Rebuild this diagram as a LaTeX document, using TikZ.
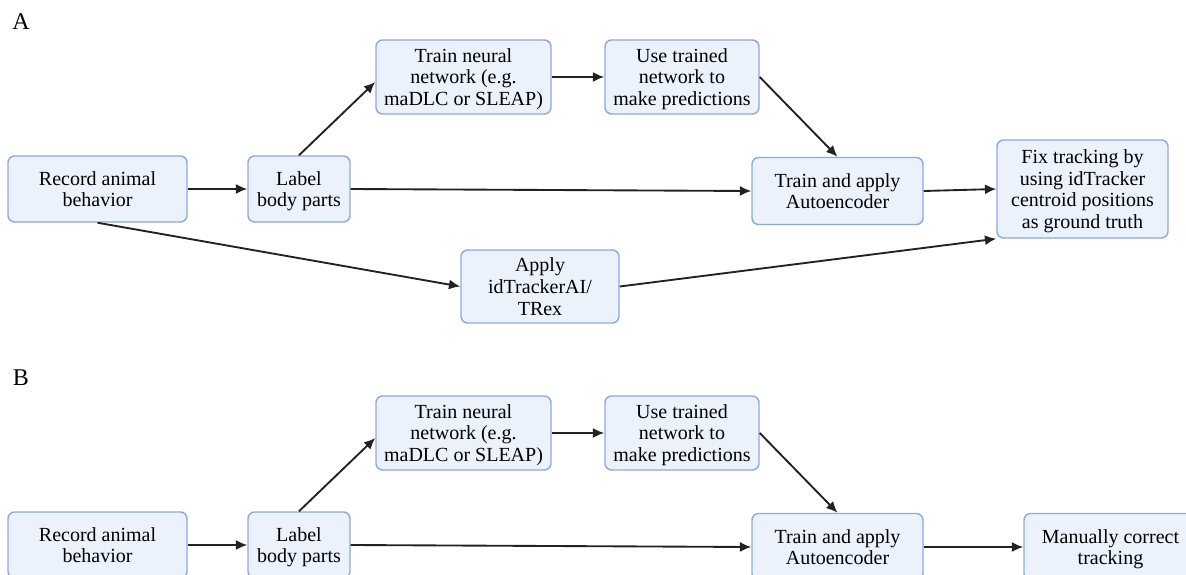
\documentclass[tikz,border=0pt]{standalone}
\usepackage{fontspec}
\setmainfont{Liberation Serif}
\usetikzlibrary{arrows.meta}
\definecolor{boxfill}{HTML}{EBF2FC}
\definecolor{boxline}{HTML}{8FAADC}
\definecolor{arrowcol}{HTML}{222222}
\tikzset{
  stepbox/.style={draw=boxline, fill=boxfill, line width=1.1pt, rounded corners=5pt,
    align=center, inner sep=0pt, text depth=0pt, font=\fontsize{15}{16.4}\selectfont},
  boxsize/.style 2 args={minimum width=#1*0.75pt, minimum height=#2*0.75pt},
  link/.style={draw=arrowcol, line width=1.4pt, -{Latex[length=8.5pt,width=7.5pt]}},
  panel/.style={font=\fontsize{18}{20}\selectfont}
}
\begin{document}
\begin{tikzpicture}[x=0.75pt,y=-0.75pt]
\path[use as bounding box, clip] (0,0) rectangle (1186,575);
\fill[white] (0,0) rectangle (1186,575);

% ---------- panel A ----------
\node[panel] (pa) at (21,22) {A};
\node[stepbox,boxsize={179}{66}] (recA) at (97.5,189) {Record animal\\behavior};
\node[stepbox,boxsize={102}{66}] (labA) at (299,189) {Label\\body parts};
\node[stepbox,boxsize={175}{74}] (trnA) at (463.5,77) {Train neural\\network (e.g.\\maDLC or SLEAP)};
\node[stepbox,boxsize={154}{74}] (useA) at (682,77) {Use trained\\network to\\make predictions};
\node[stepbox,boxsize={171}{67}] (aeA) at (837.5,191) {Train and apply\\Autoencoder};
\node[stepbox,boxsize={171}{98}] (fixA) at (1082.5,189) {Fix tracking by\\using idTracker\\centroid positions\\as ground truth};
\node[stepbox,boxsize={158}{73}] (idt) at (540,286.5) {Apply\\idTrackerAI/\\TRex};

\draw[link] (recA.east) -- (labA.west);
\draw[link] (labA.north) -- ([yshift=-3.75pt]trnA.west);
\draw[link] (trnA.east) -- (useA.west);
\draw[link] (useA.east) -- (aeA.north);
\draw[link] (labA.east) -- (aeA.west);
\draw[link] (aeA.east) -- (fixA.west);
\draw[link] (recA.south) -- (idt.west);
\draw[link] (idt.east) -- (fixA.south west);

% ---------- panel B ----------
\node[panel] (pb) at (21,378) {B};
\node[stepbox,boxsize={179}{66}] (recB) at (97.5,545) {Record animal\\behavior};
\node[stepbox,boxsize={102}{66}] (labB) at (299,545) {Label\\body parts};
\node[stepbox,boxsize={175}{74}] (trnB) at (463.5,433) {Train neural\\network (e.g.\\maDLC or SLEAP)};
\node[stepbox,boxsize={154}{74}] (useB) at (682,433) {Use trained\\network to\\make predictions};
\node[stepbox,boxsize={171}{67}] (aeB) at (837.5,547) {Train and apply\\Autoencoder};
\node[stepbox,boxsize={173}{67}] (manB) at (1110.5,547) {Manually correct\\tracking};

\draw[link] (recB.east) -- (labB.west);
\draw[link] (labB.north) -- ([yshift=-3.75pt]trnB.west);
\draw[link] (trnB.east) -- (useB.west);
\draw[link] (useB.east) -- (aeB.north);
\draw[link] (labB.east) -- (aeB.west);
\draw[link] (aeB.east) -- (manB.west);
\end{tikzpicture}
\end{document}
